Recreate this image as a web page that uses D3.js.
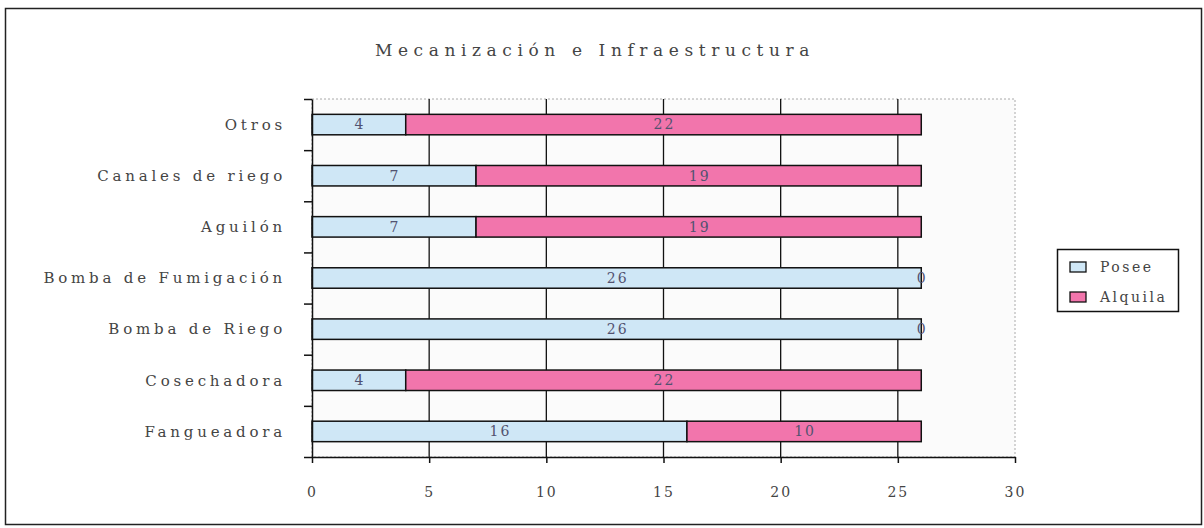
<!DOCTYPE html>
<html>
<head>
<meta charset="utf-8">
<script src="https://cdn.jsdelivr.net/npm/d3@7"></script>
<style>
  body { margin: 0; background: #fff; }
  svg text { font-family: "DejaVu Serif", "Liberation Serif", serif; fill: #444; }
</style>
</head>
<body>
<div id="okvir"></div>
<script>
// podatci sa slike
const kategorije = ["Otros", "Canales de riego", "Aguilón", "Bomba de Fumigación", "Bomba de Riego", "Cosechadora", "Fangueadora"];
const posee = [4, 7, 7, 26, 26, 4, 16];
const alquila = [22, 19, 19, 0, 0, 22, 10];
const serije = ["Posee", "Alquila"];
const xTicks = [0, 5, 10, 15, 20, 25, 30];
const naslov = "Mecanización e Infraestructura";

const boje = ["#cfe7f6", "#f275ac"];

const dim = {
  sirina: 1204,
  visina: 528,
  lijevo: 312,
  desno: 1015,
  gore: 99,
  dolje: 457
};

const svg = d3.select("#okvir").append("svg")
  .attr("width", dim.sirina)
  .attr("height", dim.visina);

// vanjski okvir
svg.append("rect")
  .attr("x", 5.5).attr("y", 8.5)
  .attr("width", 1196).attr("height", 516)
  .attr("fill", "#fff")
  .attr("stroke", "#222")
  .attr("stroke-width", 1.5);

// plot area
svg.append("rect")
  .attr("x", dim.lijevo).attr("y", dim.gore)
  .attr("width", dim.desno - dim.lijevo).attr("height", dim.dolje - dim.gore)
  .attr("fill", "#fbfbfb")
  .attr("stroke", "#aaa")
  .attr("stroke-dasharray", "2,2");

const xSkala = d3.scaleLinear()
  .domain([0, 30])
  .range([dim.lijevo, dim.desno]);

const ySkala = d3.scaleBand()
  .domain(kategorije)
  .range([dim.gore, dim.dolje])
  .paddingInner(0.6)
  .paddingOuter(0.3);

const yIndeks = d3.scaleLinear()
  .domain([0, kategorije.length])
  .range([dim.gore, dim.dolje]);

// mreza
svg.append("g")
  .selectAll("line")
  .data(xTicks.slice(1, -1))
  .join("line")
    .attr("x1", d => xSkala(d)).attr("x2", d => xSkala(d))
    .attr("y1", dim.gore).attr("y2", dim.dolje)
    .attr("stroke", "#111")
    .attr("stroke-width", 1.3);

// stupci
const podatci = kategorije.map((k, i) => ({ k, vrijednosti: [posee[i], alquila[i]] }));

podatci.forEach(dp => {
  let pocetak = 0;
  dp.vrijednosti.forEach((v, s) => {
    const x0 = xSkala(pocetak), x1 = xSkala(pocetak + v);
    if (v > 0) {
      svg.append("rect")
        .attr("x", x0).attr("y", ySkala(dp.k))
        .attr("width", x1 - x0).attr("height", ySkala.bandwidth())
        .attr("fill", boje[s])
        .attr("stroke", "#111")
        .attr("stroke-width", 1.5);
    }
    svg.append("text")
      .attr("x", (x0 + x1) / 2 + 1)
      .attr("y", ySkala(dp.k) + ySkala.bandwidth() / 2)
      .attr("dy", "0.35em")
      .attr("text-anchor", "middle")
      .style("font-size", "14px")
      .style("letter-spacing", "2px")
      .style("fill", "#525270")
      .text(v);
    pocetak += v;
  });
});

// osi
const xOs = svg.append("g")
  .attr("transform", `translate(0,${dim.dolje})`)
  .call(d3.axisBottom(xSkala).tickValues(xTicks).tickSize(6).tickSizeOuter(0).tickPadding(24));
xOs.select(".domain").attr("stroke", "#111").attr("stroke-width", 1.5);
xOs.selectAll(".tick line").attr("stroke", "#111").attr("stroke-width", 1.5);
xOs.selectAll(".tick text")
  .style("font-size", "14px")
  .style("letter-spacing", "2px")
  .style("font-family", "DejaVu Serif")
  .attr("fill", "#666");

const yOs = svg.append("g")
  .attr("transform", `translate(${dim.lijevo},0)`)
  .call(d3.axisLeft(yIndeks).tickValues(d3.range(kategorije.length + 1)).tickFormat("").tickSize(8).tickSizeOuter(0));
yOs.select(".domain").attr("stroke", "#111").attr("stroke-width", 1.5);
yOs.selectAll(".tick line").attr("stroke", "#111").attr("stroke-width", 1.5);

// oznake kategorija
svg.append("g")
  .selectAll("text")
  .data(kategorije)
  .join("text")
    .attr("x", 286)
    .attr("y", d => ySkala(d) + ySkala.bandwidth() / 2)
    .attr("dy", "0.35em")
    .attr("text-anchor", "end")
    .style("font-size", "15px")
    .style("letter-spacing", "3.8px")
    .text(d => d);

// naslov
svg.append("text")
  .attr("x", 595)
  .attr("y", 56)
  .attr("text-anchor", "middle")
  .style("font-size", "17px")
  .style("letter-spacing", "5.6px")
  .text(naslov);

// legenda
const legenda = svg.append("g");
legenda.append("rect")
  .attr("x", 1057.5).attr("y", 249.5)
  .attr("width", 121).attr("height", 62)
  .attr("fill", "#fff")
  .attr("stroke", "#111")
  .attr("stroke-width", 1.5);

serije.forEach((s, i) => {
  const y = 267 + i * 30;
  legenda.append("rect")
    .attr("x", 1070).attr("y", y - 5)
    .attr("width", 16).attr("height", 10)
    .attr("fill", boje[i])
    .attr("stroke", "#111")
    .attr("stroke-width", 1.3);
  legenda.append("text")
    .attr("x", 1100)
    .attr("y", y)
    .attr("dy", "0.35em")
    .style("font-size", "14px")
    .style("letter-spacing", "2.5px")
    .text(s);
});
</script>
</body>
</html>
